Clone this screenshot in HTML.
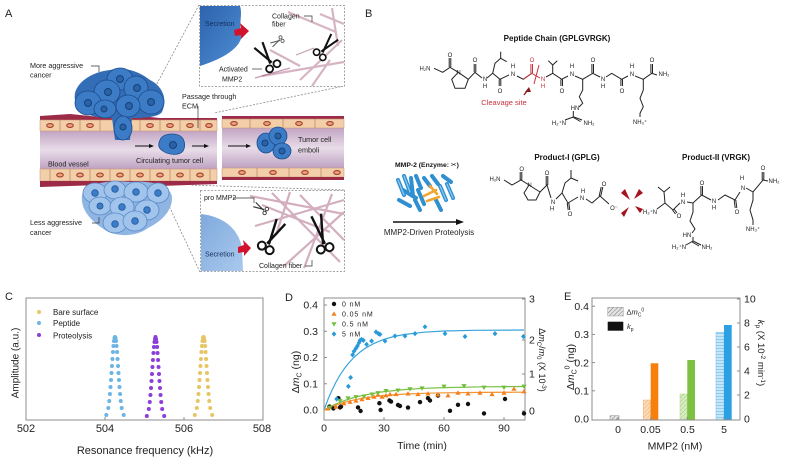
<!DOCTYPE html>
<html><head><meta charset="utf-8">
<style>
html,body{margin:0;padding:0;background:#fff;}
svg{display:block;font-family:"Liberation Sans",Arial,sans-serif;}
</style></head><body>
<svg width="787" height="459" viewBox="0 0 787 459" xmlns="http://www.w3.org/2000/svg">
<defs>
 <linearGradient id="vessel" x1="0" y1="0" x2="0" y2="1">
  <stop offset="0" stop-color="#c2a5c4"/><stop offset="0.5" stop-color="#e8dce8"/><stop offset="1" stop-color="#bfa2c2"/>
 </linearGradient>
 <linearGradient id="secA" x1="0" y1="0" x2="1" y2="1"><stop offset="0" stop-color="#2c63ad"/><stop offset="1" stop-color="#4f8ed3"/></linearGradient>
 <linearGradient id="secB" x1="0" y1="0" x2="1" y2="1"><stop offset="0" stop-color="#7fa9dc"/><stop offset="1" stop-color="#a9c9ee"/></linearGradient>
 <pattern id="hGray" width="3" height="3" patternUnits="userSpaceOnUse" patternTransform="rotate(45)"><rect width="3" height="3" fill="#e4e4e4"/><line x1="0" y1="0" x2="0" y2="3" stroke="#777" stroke-width="1"/></pattern>
 <pattern id="hOr" width="3" height="3" patternUnits="userSpaceOnUse" patternTransform="rotate(45)"><rect width="3" height="3" fill="#fbdcb9"/><line x1="0" y1="0" x2="0" y2="3" stroke="#f1a86a" stroke-width="1"/></pattern>
 <pattern id="hGr" width="3" height="3" patternUnits="userSpaceOnUse" patternTransform="rotate(45)"><rect width="3" height="3" fill="#dcedc8"/><line x1="0" y1="0" x2="0" y2="3" stroke="#9fcd74" stroke-width="1"/><line x1="0" y1="0" x2="3" y2="0" stroke="#b8da94" stroke-width="0.6"/></pattern>
 <pattern id="hBl" width="3" height="3" patternUnits="userSpaceOnUse"><rect width="3" height="3" fill="#c6e6f8"/><line x1="0" y1="0" x2="3" y2="0" stroke="#55b4e8" stroke-width="1"/></pattern>
</defs>
<rect width="787" height="459" fill="#fff"/>

<!-- ================= PANEL A ================= -->
<text x="5" y="17" font-size="11" fill="#222">A</text>

<g stroke="#8a8a8a" stroke-width="0.8" stroke-dasharray="2,1.5" fill="none">
 <line x1="199" y1="5" x2="152" y2="93"/>
 <line x1="344" y1="86" x2="214" y2="113"/>
 <line x1="344" y1="190" x2="190" y2="185"/>
 <line x1="200" y1="272" x2="163" y2="193"/>
</g>

<rect x="199.5" y="5.5" width="145" height="81" fill="#fff" stroke="#8a8a8a" stroke-width="0.8" stroke-dasharray="2,1.5"/>
<g stroke="#c99cb0" stroke-width="2.2" opacity="0.75" fill="none">
 <line x1="288" y1="12" x2="336" y2="32"/>
 <line x1="300" y1="80" x2="342" y2="40"/>
 <line x1="312" y1="86" x2="330" y2="60"/>
 <line x1="262" y1="76" x2="344" y2="62"/>
 <line x1="320" y1="14" x2="344" y2="24"/>
 <line x1="332" y1="8" x2="338" y2="46"/>
 <line x1="270" y1="50" x2="300" y2="66"/>
</g>
<g stroke="#9b5c7c" stroke-width="1.2" opacity="0.6"><line x1="255" y1="78" x2="290" y2="68"/><line x1="296" y1="55" x2="314" y2="48"/></g>
<path d="M200,6 H240 C243,15 238,25 242,35 C240,48 225,58 200,66 Z" fill="url(#secA)"/>
<text x="205" y="26" font-size="7" fill="#14305e">Secretion</text>
<polygon points="234,30 241,28 240,23 249,31 241,39 241,35 235,36" fill="#d3122e"/>
<text x="272" y="18.5" font-size="7" fill="#222">Collagen</text>
<text x="272" y="26.5" font-size="7" fill="#222">fiber</text>
<polyline points="304,16 312,16 312,22" fill="none" stroke="#333" stroke-width="0.7"/>
<text x="219" y="71.5" font-size="7" fill="#222">Activated</text>
<text x="222" y="81.5" font-size="7" fill="#222">MMP2</text>
<line x1="252" y1="69" x2="262" y2="69" stroke="#333" stroke-width="0.7"/>
<g transform="translate(271,63) rotate(-35)" stroke="#111" fill="none">
 <line x1="-1" y1="0" x2="5" y2="-22" stroke-width="2.2"/><line x1="1" y1="0" x2="-5" y2="-22" stroke-width="2.2"/>
 <circle cx="-4.5" cy="4" r="3.5" stroke-width="1.8" fill="#fff"/><circle cx="4.5" cy="4" r="3.5" stroke-width="1.8" fill="#fff"/>
</g>
<g transform="translate(322,52) rotate(40) scale(0.9)" stroke="#111" fill="none">
 <line x1="-1" y1="0" x2="5" y2="-22" stroke-width="2.2"/><line x1="1" y1="0" x2="-5" y2="-22" stroke-width="2.2"/>
 <circle cx="-4.5" cy="4" r="3.5" stroke-width="1.8" fill="#fff"/><circle cx="4.5" cy="4" r="3.5" stroke-width="1.8" fill="#fff"/>
</g>
<g transform="translate(280,40) rotate(-120) scale(0.45)" stroke="#555" fill="none">
 <line x1="-1" y1="0" x2="5" y2="-22" stroke-width="2.2"/><line x1="1" y1="0" x2="-5" y2="-22" stroke-width="2.2"/>
 <circle cx="-4.5" cy="4" r="3.5" stroke-width="1.8" fill="#fff"/><circle cx="4.5" cy="4" r="3.5" stroke-width="1.8" fill="#fff"/>
</g>

<rect x="200.5" y="190.5" width="144" height="81" fill="#fff" stroke="#8a8a8a" stroke-width="0.8" stroke-dasharray="2,1.5"/>
<g stroke="#c594aa" stroke-width="2.2" opacity="0.75" fill="none">
 <line x1="250" y1="196" x2="344" y2="214"/>
 <line x1="272" y1="193" x2="340" y2="262"/>
 <line x1="300" y1="195" x2="344" y2="240"/>
 <line x1="255" y1="226" x2="344" y2="200"/>
 <line x1="284" y1="266" x2="344" y2="212"/>
 <line x1="332" y1="194" x2="304" y2="268"/>
 <line x1="262" y1="205" x2="330" y2="232"/>
 <line x1="290" y1="192" x2="276" y2="235"/>
</g>
<path d="M201,214 C220,216 238,226 242,248 L243,271 L201,271 Z" fill="url(#secB)"/>
<text x="205" y="256.5" font-size="7" fill="#14305e">Secretion</text>
<polygon points="238,247 244,245 243,240 251,248 244,256 244,252 238,253" fill="#d3122e"/>
<text x="204" y="200" font-size="7" fill="#222">pro MMP2</text>
<polyline points="233,198 254,198 254,203" fill="none" stroke="#333" stroke-width="0.7"/>
<text x="259" y="268" font-size="7" fill="#222">Collagen fiber</text>
<polyline points="305,266 312,266 312,260" fill="none" stroke="#333" stroke-width="0.7"/>
<g transform="translate(268,244) rotate(30)" stroke="#111" fill="none">
 <line x1="-1" y1="0" x2="5" y2="-26" stroke-width="2.4"/><line x1="1" y1="0" x2="-5" y2="-26" stroke-width="2.4"/>
 <circle cx="-4.5" cy="4.5" r="4" stroke-width="2" fill="#fff"/><circle cx="4.5" cy="4.5" r="4" stroke-width="2" fill="#fff"/>
</g>
<g transform="translate(324,244) rotate(-15)" stroke="#111" fill="none">
 <line x1="-1" y1="0" x2="5" y2="-30" stroke-width="2.4"/><line x1="1" y1="0" x2="-5" y2="-30" stroke-width="2.4"/>
 <circle cx="-4.5" cy="4.5" r="4" stroke-width="2" fill="#fff"/><circle cx="4.5" cy="4.5" r="4" stroke-width="2" fill="#fff"/>
</g>
<g transform="translate(264,210) rotate(-60) scale(0.5)" stroke="#333" fill="none">
 <line x1="-1" y1="0" x2="5" y2="-22" stroke-width="2.2"/><line x1="1" y1="0" x2="-5" y2="-22" stroke-width="2.2"/>
 <circle cx="-4.5" cy="4" r="3.5" stroke-width="1.8" fill="#fff"/><circle cx="4.5" cy="4" r="3.5" stroke-width="1.8" fill="#fff"/>
</g>

<!-- blood vessel left -->
<rect x="40" y="131" width="177" height="38" fill="url(#vessel)"/>
<path d="M40,116 L70,114 L100,117 L130,115 L160,118 L217,118 L217,121 L40,120 Z" fill="#9c2b47"/>
<rect x="40" y="120" width="177" height="11" fill="#f2cfa9" stroke="#c49070" stroke-width="0.5"/>
<rect x="40" y="169" width="177" height="12" fill="#f2cfa9" stroke="#c49070" stroke-width="0.5"/>
<path d="M40,181 L217,181 L217,184 L160,186 L100,185 L40,187 Z" fill="#9c2b47"/>
<g stroke="#c08a68" stroke-width="0.8">
 <line x1="60" y1="120" x2="60" y2="131"/><line x1="80" y1="120" x2="80" y2="131"/><line x1="100" y1="120" x2="100" y2="131"/><line x1="120" y1="120" x2="120" y2="131"/><line x1="140" y1="120" x2="140" y2="131"/><line x1="160" y1="120" x2="160" y2="131"/><line x1="180" y1="120" x2="180" y2="131"/><line x1="200" y1="120" x2="200" y2="131"/>
 <line x1="50" y1="169" x2="50" y2="181"/><line x1="70" y1="169" x2="70" y2="181"/><line x1="90" y1="169" x2="90" y2="181"/><line x1="110" y1="169" x2="110" y2="181"/><line x1="130" y1="169" x2="130" y2="181"/><line x1="150" y1="169" x2="150" y2="181"/><line x1="170" y1="169" x2="170" y2="181"/><line x1="190" y1="169" x2="190" y2="181"/><line x1="210" y1="169" x2="210" y2="181"/>
</g>
<g fill="#eba57c" stroke="#a6402e" stroke-width="1.1">
 <ellipse cx="50" cy="125.5" rx="3.3" ry="1.9"/><ellipse cx="70" cy="125.5" rx="3.3" ry="1.9"/><ellipse cx="90" cy="125.5" rx="3.3" ry="1.9"/><ellipse cx="150" cy="125.5" rx="3.3" ry="1.9"/><ellipse cx="170" cy="125.5" rx="3.3" ry="1.9"/><ellipse cx="190" cy="125.5" rx="3.3" ry="1.9"/><ellipse cx="209" cy="125.5" rx="3.3" ry="1.9"/>
 <ellipse cx="60" cy="175" rx="3.3" ry="1.9"/><ellipse cx="80" cy="175" rx="3.3" ry="1.9"/><ellipse cx="100" cy="175" rx="3.3" ry="1.9"/><ellipse cx="120" cy="175" rx="3.3" ry="1.9"/><ellipse cx="140" cy="175" rx="3.3" ry="1.9"/><ellipse cx="160" cy="175" rx="3.3" ry="1.9"/><ellipse cx="180" cy="175" rx="3.3" ry="1.9"/><ellipse cx="200" cy="175" rx="3.3" ry="1.9"/>
</g>
<!-- blood vessel right -->
<rect x="222" y="128" width="122" height="40" fill="url(#vessel)"/>
<rect x="222" y="116" width="122" height="3" fill="#9c2b47"/>
<rect x="222" y="119" width="122" height="9" fill="#f2cfa9" stroke="#c49070" stroke-width="0.5"/>
<rect x="222" y="168" width="122" height="9" fill="#f2cfa9" stroke="#c49070" stroke-width="0.5"/>
<rect x="222" y="177" width="122" height="3" fill="#9c2b47"/>
<g stroke="#c08a68" stroke-width="0.8">
 <line x1="250" y1="119" x2="250" y2="128"/><line x1="283" y1="119" x2="283" y2="128"/><line x1="315" y1="119" x2="315" y2="128"/>
 <line x1="257" y1="168" x2="257" y2="177"/><line x1="289" y1="168" x2="289" y2="177"/><line x1="321" y1="168" x2="321" y2="177"/>
</g>
<g fill="#eba57c" stroke="#a6402e" stroke-width="1.1">
 <ellipse cx="234" cy="123.5" rx="3.3" ry="1.9"/><ellipse cx="267" cy="123.5" rx="3.3" ry="1.9"/><ellipse cx="299" cy="123.5" rx="3.3" ry="1.9"/><ellipse cx="330" cy="123.5" rx="3.3" ry="1.9"/>
 <ellipse cx="242" cy="172.5" rx="3.3" ry="1.9"/><ellipse cx="273" cy="172.5" rx="3.3" ry="1.9"/><ellipse cx="305" cy="172.5" rx="3.3" ry="1.9"/><ellipse cx="337" cy="172.5" rx="3.3" ry="1.9"/>
</g>
<g stroke="#111" stroke-width="1"><line x1="135" y1="146" x2="150" y2="146"/><line x1="192" y1="146" x2="205" y2="146"/><line x1="228" y1="146" x2="247" y2="146"/></g>
<g fill="#111"><polygon points="149,144 154,146 149,148"/><polygon points="204,144 209,146 204,148"/><polygon points="246,144 251,146 246,148"/></g>

<!-- top cancer cluster -->
<path d="M75,100 C72,85 90,72 110,70 C125,66 140,72 150,80 C162,86 168,98 162,112 C158,118 140,118 132,118 L130,140 L115,140 L112,118 C95,118 78,115 75,100Z" fill="#336db5"/>
<g fill="#3c7cc6" stroke="#1d4b8a" stroke-width="0.8">
 <ellipse cx="120" cy="79" rx="13" ry="11"/>
 <ellipse cx="136" cy="88" rx="12" ry="12"/>
 <ellipse cx="107" cy="92" rx="13" ry="12"/>
 <ellipse cx="88" cy="103" rx="13" ry="12"/>
 <ellipse cx="151" cy="102" rx="13" ry="12"/>
 <ellipse cx="105" cy="109" rx="11" ry="9"/>
 <ellipse cx="128" cy="106" rx="12" ry="11"/>
 <ellipse cx="123" cy="128" rx="9" ry="12"/>
</g>
<g fill="#2a62a8" stroke="#174279" stroke-width="1"><circle cx="120" cy="79" r="3.5"/><circle cx="137" cy="88" r="3.5"/><circle cx="108" cy="92" r="3.5"/><circle cx="88" cy="103" r="3.5"/><circle cx="151" cy="102" r="3.5"/><circle cx="104" cy="109" r="3"/><circle cx="129" cy="106" r="3.5"/><circle cx="123" cy="127" r="3"/></g>
<path d="M160,140 C162,134 172,133 178,135 C185,137 186,146 183,151 C179,156 168,155 163,151 C158,148 158,144 160,140Z" fill="#3c7cc6" stroke="#1d4b8a" stroke-width="0.8"/>
<circle cx="173" cy="145" r="3.5" fill="#2a62a8" stroke="#174279"/>
<g fill="#3c7cc6" stroke="#1d4b8a" stroke-width="0.8">
 <ellipse cx="266" cy="143" rx="9" ry="10"/><ellipse cx="278" cy="136" rx="9" ry="9"/><ellipse cx="282" cy="151" rx="9" ry="8"/>
</g>
<g fill="#2a62a8" stroke="#174279"><circle cx="265" cy="143" r="3"/><circle cx="278" cy="136" r="3"/><circle cx="282" cy="151" r="3"/></g>

<!-- bottom cancer cluster -->
<path d="M82,195 C85,183 110,180 130,182 C150,180 172,185 172,198 C172,212 160,222 148,228 C138,236 118,238 105,230 C92,222 80,210 82,195Z" fill="#8fb5e3"/>
<g fill="#a1c4ec" stroke="#5b89c5" stroke-width="0.8">
 <ellipse cx="95" cy="193" rx="12" ry="10"/><ellipse cx="115" cy="190" rx="11" ry="9"/><ellipse cx="136" cy="192" rx="12" ry="10"/><ellipse cx="158" cy="193" rx="11" ry="10"/>
 <ellipse cx="100" cy="206" rx="11" ry="9"/><ellipse cx="122" cy="207" rx="12" ry="10"/><ellipse cx="147" cy="210" rx="12" ry="10"/>
 <ellipse cx="115" cy="223" rx="12" ry="10"/><ellipse cx="135" cy="221" rx="12" ry="10"/>
</g>
<g fill="#3b7ccb" stroke="#285c9c" stroke-width="0.9"><circle cx="95" cy="193" r="3.3"/><circle cx="115" cy="189" r="3.3"/><circle cx="136" cy="192" r="3.3"/><circle cx="158" cy="193" r="3.3"/><circle cx="100" cy="206" r="3"/><circle cx="122" cy="207" r="3.3"/><circle cx="147" cy="210" r="3.3"/><circle cx="115" cy="224" r="3.3"/><circle cx="135" cy="221" r="3.3"/></g>

<g font-size="7.2" fill="#222">
 <text x="30" y="68">More aggressive</text><text x="30" y="77.5">cancer</text>
 <text x="30" y="225">Less aggressive</text><text x="30" y="235">cancer</text>
 <text x="182" y="99">Passage through</text><text x="182" y="108.5">ECM</text>
 <text x="48" y="166.5">Blood vessel</text>
 <text x="136" y="163">Circulating  tumor cell</text>
 <text x="298" y="142">Tumor cell</text><text x="298" y="152.5">emboli</text>
</g>
<g fill="none" stroke="#333" stroke-width="0.7">
 <polyline points="91,66 99,66 99,72"/>
 <polyline points="92,223 99,223 99,217"/>
 <polyline points="198,106 198,128"/>
</g>

<!-- ================= PANEL B ================= -->
<text x="365" y="17" font-size="11" fill="#222">B</text>
<text x="557" y="41" font-size="8" font-weight="bold" text-anchor="middle" fill="#111">Peptide Chain (GPLGVRGK)</text>
<g fill="none" stroke="#222" stroke-width="1">
 <polyline points="434,68.3 442.7,72.3 450,67.3 458.3,72.3"/>
 <line x1="449.2" y1="67" x2="449.2" y2="58"/><line x1="450.8" y1="67" x2="450.8" y2="58"/>
 <polyline points="458.3,72.3 451.7,79.3 455,88.3 465,88.3 468.3,79.3 458.3,72.3"/>
 <polyline points="468.3,79.3 475,72.3 482,78"/>
 <line x1="474.2" y1="72" x2="474.2" y2="64"/><line x1="475.8" y1="72" x2="475.8" y2="64"/>
 <polyline points="487,78 492.7,73.3 500,79.3 509,75"/>
 <polyline points="492.7,73.3 495,63.3 500.7,58.3 500.7,51.7"/><line x1="500.7" y1="58.3" x2="506.7" y2="61.7"/>
 <line x1="499.2" y1="79.5" x2="499.2" y2="86"/><line x1="500.8" y1="79.5" x2="500.8" y2="86"/>
 <polyline points="517,76 523.3,79.3 531.7,73.3"/>
 <polyline points="546,77 552.7,73.3 561.7,79.3 568,76"/>
 <polyline points="552.7,73.3 552.7,65 548.3,60.7"/><line x1="552.7" y1="65" x2="557.3" y2="60.7"/>
 <line x1="560.9" y1="79.5" x2="560.9" y2="86"/><line x1="562.5" y1="79.5" x2="562.5" y2="86"/>
 <polyline points="575,76 582.7,79.3 592.7,73.3 600,77"/>
 <polyline points="582.7,79.3 582.7,90 579.3,96.7 582.7,103.3 579,107"/>
 <line x1="573.3" y1="111" x2="573.3" y2="117"/><line x1="573.3" y1="117" x2="565" y2="120"/><line x1="574" y1="117" x2="582" y2="120"/><line x1="572.5" y1="117" x2="580.5" y2="121.5"/>
 <line x1="591.9" y1="73" x2="591.9" y2="64"/><line x1="593.5" y1="73" x2="593.5" y2="64"/>
 <polyline points="606,77 611.7,73.3 621.7,79.3 628,76"/>
 <line x1="620.9" y1="79.5" x2="620.9" y2="86"/><line x1="622.5" y1="79.5" x2="622.5" y2="86"/>
 <polyline points="635,76 643.3,79.3 651.7,73.3 657,75"/>
 <polyline points="643.3,79.3 643.3,90 640,98.3 643.3,106.7 640,113.3 640,117"/>
 <line x1="650.9" y1="73" x2="650.9" y2="64"/><line x1="652.5" y1="73" x2="652.5" y2="64"/>
</g>
<g fill="none" stroke="#c8323c" stroke-width="1">
 <polyline points="523.3,79.3 531.7,73.3 540,78"/>
 <line x1="530.9" y1="73" x2="530.9" y2="64"/><line x1="532.5" y1="73" x2="532.5" y2="64"/>
 <line x1="539" y1="65" x2="534" y2="84"/>
</g>
<polygon points="525,92 529,87 531,92" fill="#8b1a1a"/><line x1="527" y1="91" x2="524" y2="95" stroke="#8b1a1a" stroke-width="1.4"/>
<g font-size="6" fill="#222" text-anchor="middle">
 <text x="425" y="70.5">H₂N</text>
 <text x="450" y="57">O</text><text x="458.5" y="74.5">N</text>
 <text x="475" y="62">O</text><text x="485" y="81">N</text><text x="485" y="88">H</text>
 <text x="500" y="93">O</text>
 <text x="513" y="76">N</text><text x="513" y="68">H</text>
 <text x="562" y="93">O</text>
 <text x="572" y="76">N</text><text x="572" y="68">H</text>
 <text x="575" y="110">HN</text><text x="559" y="125">H₂⁺N</text><text x="589" y="125">NH₂</text>
 <text x="593" y="62">O</text>
 <text x="603" y="81">N</text><text x="603" y="88">H</text>
 <text x="622" y="93">O</text>
 <text x="632" y="76">N</text><text x="632" y="68">H</text>
 <text x="640" y="124">NH₃⁺</text>
 <text x="652" y="62">O</text>
 <text x="664" y="76">NH₂</text>
</g>
<g font-size="6" fill="#c8323c" text-anchor="middle"><text x="532" y="62">O</text><text x="543" y="81">N</text><text x="543" y="88">H</text></g>
<text x="504" y="105" font-size="7.5" fill="#c8323c" text-anchor="middle">Cleavage site</text>

<!-- MMP-2 enzyme -->
<text x="395" y="167" font-size="6.8" font-weight="bold" fill="#111">MMP-2 (Enzyme: <tspan font-family="DejaVu Sans" font-weight="normal">✂</tspan>)</text>
<g stroke-linecap="round" fill="none">
 <g stroke="#2f8fd0" stroke-width="4">
  <line x1="398" y1="180" x2="404" y2="195"/><line x1="404" y1="176" x2="410" y2="192"/><line x1="411" y1="178" x2="413" y2="196"/>
  <line x1="399" y1="200" x2="410" y2="206"/><line x1="416" y1="176" x2="421" y2="188"/><line x1="424" y1="178" x2="430" y2="186"/>
  <line x1="440" y1="186" x2="446" y2="200"/><line x1="447" y1="184" x2="453" y2="198"/><line x1="436" y1="200" x2="441" y2="210"/>
  <line x1="415" y1="200" x2="420" y2="210"/><line x1="443" y1="176" x2="451" y2="182"/>
  <line x1="403" y1="190" x2="416" y2="198"/><line x1="418" y1="190" x2="424" y2="204"/><line x1="432" y1="176" x2="438" y2="184"/>
 </g>
 <g stroke="#8ccdf3" stroke-width="1.2">
  <line x1="398" y1="180" x2="404" y2="195"/><line x1="404" y1="176" x2="410" y2="192"/><line x1="440" y1="186" x2="446" y2="200"/><line x1="447" y1="184" x2="453" y2="198"/>
 </g>
 <g stroke="#f2a530" stroke-width="2.6">
  <line x1="424" y1="196" x2="436" y2="190"/><line x1="427" y1="201" x2="439" y2="197"/><line x1="430" y1="186" x2="437" y2="194"/>
 </g>
</g>
<line x1="393" y1="222" x2="457" y2="222" stroke="#111" stroke-width="1.4"/>
<polygon points="456,219 464,222 456,225" fill="#111"/>
<text x="429" y="235" font-size="8" fill="#222" text-anchor="middle">MMP2-Driven Proteolysis</text>

<text x="567" y="160" font-size="8" font-weight="bold" text-anchor="middle" fill="#111">Product-I (GPLG)</text>
<text x="716" y="160" font-size="8" font-weight="bold" text-anchor="middle" fill="#111">Product-II (VRGK)</text>
<g fill="none" stroke="#222" stroke-width="1">
 <polyline points="504,180 512,185 521,180 529,185"/>
 <line x1="520.2" y1="180" x2="520.2" y2="172"/><line x1="521.8" y1="180" x2="521.8" y2="172"/>
 <polyline points="529,185 524,193 528,200 536,200 540,192 529,185"/>
 <polyline points="540,192 547,185 551,198"/>
 <line x1="546.2" y1="185" x2="546.2" y2="176"/><line x1="547.8" y1="185" x2="547.8" y2="176"/>
 <polyline points="556,199 562,193 568,203 578,197"/>
 <polyline points="562,193 565,183 571,178 571,170"/><line x1="571" y1="178" x2="578" y2="181"/>
 <line x1="567.2" y1="203" x2="568.2" y2="210"/><line x1="568.8" y1="203" x2="569.8" y2="210"/>
 <polyline points="586,199 592,203 600,196 609,204"/>
 <line x1="599.2" y1="196" x2="601.2" y2="187"/><line x1="600.8" y1="196" x2="602.8" y2="187"/>

 <polyline points="657,209 665,203 673,210 680,203"/>
 <polyline points="665,203 664,192 658,187"/><line x1="664" y1="192" x2="670" y2="187"/>
 <line x1="672.5" y1="210" x2="675.5" y2="214"/><line x1="674" y1="209" x2="677" y2="213"/>
 <polyline points="687,202 693,203 701.7,195 711,200"/>
 <polyline points="693,203 693,212 690,221 695,229 692,233"/>
 <line x1="693" y1="237" x2="693" y2="241"/><line x1="693" y1="241" x2="686" y2="245"/><line x1="693" y1="241" x2="701" y2="245"/><line x1="692" y1="242" x2="699" y2="246"/>
 <line x1="700.9" y1="195" x2="700.9" y2="186"/><line x1="702.5" y1="195" x2="702.5" y2="186"/>
 <polyline points="718,200 725,195 735,200 740,192"/>
 <line x1="734.2" y1="200" x2="735.2" y2="208"/><line x1="735.8" y1="200" x2="736.8" y2="208"/>
 <polyline points="746,188 753,192 763,180 768,181"/>
 <polyline points="753,192 753,200 750,210 753,220 753,225"/>
 <line x1="762.2" y1="180" x2="762.2" y2="172"/><line x1="763.8" y1="180" x2="763.8" y2="172"/>
</g>
<g font-size="6" fill="#222" text-anchor="middle">
 <text x="495" y="181">H₂N</text><text x="521.7" y="171">O</text><text x="529.5" y="187">N</text>
 <text x="547" y="175">O</text><text x="553" y="204">N</text><text x="552" y="210.5">H</text>
 <text x="570" y="216">O</text><text x="582" y="200">N</text><text x="583" y="193">H</text>
 <text x="604" y="186">O</text><text x="614" y="210">O⁻</text>
 <text x="650" y="214">H₃⁺N</text><text x="679" y="218">O</text>
 <text x="683" y="204">N</text><text x="683" y="197">H</text>
 <text x="687" y="237">HN</text><text x="679" y="249">H₂⁺N</text><text x="707" y="249">NH₂</text>
 <text x="702" y="185">O</text><text x="714" y="203">N</text><text x="714" y="209.5">H</text>
 <text x="737" y="214">O</text><text x="743" y="190">N</text><text x="742" y="180">H</text>
 <text x="753" y="231">NH₃⁺</text><text x="763" y="170">O</text><text x="774" y="183">NH₂</text>
</g>
<g fill="#a3141e">
 <polygon points="621,193 625,189 630,200"/>
 <polygon points="639,189 643,193 634,199"/>
 <polygon points="621,213 624,217 629,207"/>
 <polygon points="640,213 643,209 635,206"/>
</g>

<!-- ================= PANEL C ================= -->
<text x="5" y="300" font-size="11" fill="#222">C</text>
<rect x="26" y="298" width="237" height="122" fill="none" stroke="#8c8c8c" stroke-width="1"/>
<g stroke="#8c8c8c" stroke-width="1"><line x1="105" y1="420" x2="105" y2="417"/><line x1="184" y1="420" x2="184" y2="417"/></g>
<g font-size="11" fill="#222" text-anchor="middle"><text x="26" y="432">502</text><text x="105" y="432">504</text><text x="184" y="432">506</text><text x="262" y="432">508</text></g>
<text x="145" y="454" font-size="11" fill="#222" text-anchor="middle">Resonance frequency (kHz)</text>
<text transform="translate(18.5,363) rotate(-90)" font-size="10" fill="#222" text-anchor="middle">Amplitude (a.u.)</text>
<circle cx="39" cy="312" r="2" fill="#e6c564"/><circle cx="39" cy="323" r="2" fill="#6cb4e4"/><circle cx="39" cy="335" r="2" fill="#8c3fd8"/>
<g font-size="8" fill="#222"><text x="53" y="315">Bare surface</text><text x="53" y="326">Peptide</text><text x="53" y="338.5">Proteolysis</text></g>
<g transform="translate(115,417)" fill="#6cb4e4">
 <circle cx="-8.7" cy="-2" r="2"/><circle cx="8.7" cy="-2" r="2"/><circle cx="-6.7" cy="-9" r="2"/><circle cx="6.7" cy="-9" r="2"/>
 <circle cx="-5.74" cy="-16" r="2"/><circle cx="5.74" cy="-16" r="2"/><circle cx="-5.05" cy="-23" r="2"/><circle cx="5.05" cy="-23" r="2"/>
 <circle cx="-4.48" cy="-30" r="2"/><circle cx="4.48" cy="-30" r="2"/><circle cx="-3.97" cy="-37" r="2"/><circle cx="3.97" cy="-37" r="2"/>
 <circle cx="-3.5" cy="-44" r="2"/><circle cx="3.5" cy="-44" r="2"/><circle cx="-3.04" cy="-51" r="2"/><circle cx="3.04" cy="-51" r="2"/>
 <circle cx="-2.57" cy="-58" r="2"/><circle cx="2.57" cy="-58" r="2"/><circle cx="-2.06" cy="-65" r="2"/><circle cx="2.06" cy="-65" r="2"/>
 <circle cx="-1.56" cy="-71" r="2"/><circle cx="1.56" cy="-71" r="2"/><circle cx="-1.03" cy="-76" r="2"/><circle cx="1.03" cy="-76" r="2"/>
 <circle cx="-0.5" cy="-79" r="2"/><circle cx="0.5" cy="-79" r="2"/><circle cx="0" cy="-80" r="2"/>
</g>
<g transform="translate(155.5,418)" fill="#8c3fd8">
 <circle cx="-8.7" cy="-2" r="2"/><circle cx="8.7" cy="-2" r="2"/><circle cx="-6.7" cy="-9" r="2"/><circle cx="6.7" cy="-9" r="2"/>
 <circle cx="-5.74" cy="-16" r="2"/><circle cx="5.74" cy="-16" r="2"/><circle cx="-5.05" cy="-23" r="2"/><circle cx="5.05" cy="-23" r="2"/>
 <circle cx="-4.48" cy="-30" r="2"/><circle cx="4.48" cy="-30" r="2"/><circle cx="-3.97" cy="-37" r="2"/><circle cx="3.97" cy="-37" r="2"/>
 <circle cx="-3.5" cy="-44" r="2"/><circle cx="3.5" cy="-44" r="2"/><circle cx="-3.04" cy="-51" r="2"/><circle cx="3.04" cy="-51" r="2"/>
 <circle cx="-2.57" cy="-58" r="2"/><circle cx="2.57" cy="-58" r="2"/><circle cx="-2.06" cy="-65" r="2"/><circle cx="2.06" cy="-65" r="2"/>
 <circle cx="-1.56" cy="-71" r="2"/><circle cx="1.56" cy="-71" r="2"/><circle cx="-1.03" cy="-76" r="2"/><circle cx="1.03" cy="-76" r="2"/>
 <circle cx="-0.5" cy="-79" r="2"/><circle cx="0.5" cy="-79" r="2"/><circle cx="0" cy="-81" r="2"/>
</g>
<g transform="translate(203.5,417)" fill="#e6c564">
 <circle cx="-8.7" cy="-2" r="2"/><circle cx="8.7" cy="-2" r="2"/><circle cx="-6.7" cy="-9" r="2"/><circle cx="6.7" cy="-9" r="2"/>
 <circle cx="-5.74" cy="-16" r="2"/><circle cx="5.74" cy="-16" r="2"/><circle cx="-5.05" cy="-23" r="2"/><circle cx="5.05" cy="-23" r="2"/>
 <circle cx="-4.48" cy="-30" r="2"/><circle cx="4.48" cy="-30" r="2"/><circle cx="-3.97" cy="-37" r="2"/><circle cx="3.97" cy="-37" r="2"/>
 <circle cx="-3.5" cy="-44" r="2"/><circle cx="3.5" cy="-44" r="2"/><circle cx="-3.04" cy="-51" r="2"/><circle cx="3.04" cy="-51" r="2"/>
 <circle cx="-2.57" cy="-58" r="2"/><circle cx="2.57" cy="-58" r="2"/><circle cx="-2.06" cy="-65" r="2"/><circle cx="2.06" cy="-65" r="2"/>
 <circle cx="-1.56" cy="-71" r="2"/><circle cx="1.56" cy="-71" r="2"/><circle cx="-1.03" cy="-76" r="2"/><circle cx="1.03" cy="-76" r="2"/>
 <circle cx="-0.5" cy="-79" r="2"/><circle cx="0.5" cy="-79" r="2"/><circle cx="0" cy="-80" r="2"/>
</g>

<!-- ================= PANEL D ================= -->
<text x="285" y="301" font-size="11" fill="#222">D</text>
<rect x="324" y="298" width="201" height="122" fill="none" stroke="#8c8c8c" stroke-width="1"/>
<g stroke="#8c8c8c" stroke-width="1">
 <line x1="324" y1="410" x2="327" y2="410"/><line x1="324" y1="383.75" x2="327" y2="383.75"/><line x1="324" y1="357.5" x2="327" y2="357.5"/><line x1="324" y1="331.25" x2="327" y2="331.25"/><line x1="324" y1="305" x2="327" y2="305"/>
 <line x1="384" y1="420" x2="384" y2="417"/><line x1="444" y1="420" x2="444" y2="417"/><line x1="504" y1="420" x2="504" y2="417"/>
 <line x1="522" y1="411" x2="525" y2="411"/><line x1="522" y1="374" x2="525" y2="374"/><line x1="522" y1="340" x2="525" y2="340"/><line x1="522" y1="299" x2="525" y2="299"/>
</g>
<g font-size="10.5" fill="#222" text-anchor="end">
 <text x="318" y="413.7">0.0</text><text x="318" y="387.5">0.1</text><text x="318" y="361.2">0.2</text><text x="318" y="335">0.3</text><text x="318" y="308.7">0.4</text>
</g>
<g font-size="10.5" fill="#222"><text x="529" y="414.7">0</text><text x="529" y="377.7">1</text><text x="529" y="343.7">2</text><text x="529" y="302.7">3</text></g>
<g font-size="10.5" fill="#222" text-anchor="middle"><text x="324" y="431.5">0</text><text x="384" y="431.5">30</text><text x="444" y="431.5">60</text><text x="504" y="431.5">90</text></g>
<text x="422" y="449" font-size="10.5" fill="#222" text-anchor="middle">Time (min)</text>
<text transform="translate(299,372) rotate(-90)" font-size="10.5" fill="#222" text-anchor="middle">Δ<tspan font-style="italic">m</tspan><tspan font-size="7" dy="2.5">C</tspan><tspan dy="-2.5"> (ng)</tspan></text>
<text transform="translate(539,360) rotate(90)" font-size="9" fill="#222" text-anchor="middle">Δ<tspan font-style="italic">m</tspan><tspan font-size="6" dy="2">C</tspan><tspan dy="-2">/</tspan><tspan font-style="italic">m</tspan><tspan font-size="6" dy="2">0</tspan><tspan dy="-2"> (X 10</tspan><tspan font-size="6" dy="-3">-3</tspan><tspan dy="3">)</tspan></text>
<polyline fill="none" stroke="#3ba3dc" stroke-width="1.2" points="324,410 328,399.3 332,390.1 336,382.1 340,375.1 344,369.1 348,363.9 354,357.4 360,352.1 366,347.8 374,343.4 384,339.3 394,336.5 404,334.5 424,332.2 444,331 474,330.3 524,330"/>
<polyline fill="none" stroke="#7ac143" stroke-width="1.2" points="324,410 334,404.8 344,400.7 354,397.5 364,395.1 384,391.6 404,389.6 424,388.3 444,387.6 484,386.8 524,386.5"/>
<polyline fill="none" stroke="#f39332" stroke-width="1.2" points="324,410 334,405.7 344,402.4 354,399.9 364,398 384,395.5 404,394.1 424,393.3 444,392.8 484,392.4 524,392.2"/>
<g fill="#111">
 <circle cx="329.4" cy="406.6" r="2.2"/><circle cx="333.4" cy="408.4" r="2.2"/><circle cx="338.4" cy="398.2" r="2.2"/><circle cx="340" cy="407.4" r="2.2"/><circle cx="341" cy="406.6" r="2.2"/>
 <circle cx="358" cy="407.4" r="2.2"/><circle cx="360.6" cy="411" r="2.2"/><circle cx="379.4" cy="403.2" r="2.2"/><circle cx="380.6" cy="410" r="2.2"/><circle cx="389.4" cy="400.5" r="2.2"/>
 <circle cx="391" cy="401.6" r="2.2"/><circle cx="398" cy="405" r="2.2"/><circle cx="400" cy="406" r="2.2"/><circle cx="408" cy="407.6" r="2.2"/><circle cx="420" cy="402.1" r="2.2"/>
 <circle cx="428" cy="398.2" r="2.2"/><circle cx="430" cy="400.5" r="2.2"/><circle cx="438" cy="395.6" r="2.2"/><circle cx="450" cy="410.8" r="2.2"/><circle cx="458" cy="404.8" r="2.2"/>
 <circle cx="468" cy="404" r="2.2"/><circle cx="484" cy="413.4" r="2.2"/><circle cx="505" cy="399" r="2.2"/><circle cx="524" cy="413.4" r="2.2"/>
</g>
<path fill="#f5801f" d="M328,406.1l2.6,4.4h-5.2z M336,404.3l2.6,4.4h-5.2z M344,400.8l2.6,4.4h-5.2z M350,399.5l2.6,4.4h-5.2z M356,398.2l2.6,4.4h-5.2z M362,396.9l2.6,4.4h-5.2z M368,395.6l2.6,4.4h-5.2z M374,394.3l2.6,4.4h-5.2z M378,392.2l2.6,4.4h-5.2z M382,394.3l2.6,4.4h-5.2z M386,393l2.6,4.4h-5.2z M390,391.7l2.6,4.4h-5.2z M396,391.7l2.6,4.4h-5.2z M408,391.1l2.6,4.4h-5.2z M418,391.7l2.6,4.4h-5.2z M428,391.1l2.6,4.4h-5.2z M438,392.2l2.6,4.4h-5.2z M448,393l2.6,4.4h-5.2z M458,390.3l2.6,4.4h-5.2z M468,391.1l2.6,4.4h-5.2z M480,390.3l2.6,4.4h-5.2z M492,391.7l2.6,4.4h-5.2z M504,390.3l2.6,4.4h-5.2z M514,386.4l2.6,4.4h-5.2z M524,389l2.6,4.4h-5.2z"/>
<path fill="#72bd3c" d="M330,410l2.6,-4.4h-5.2z M340,403.4l2.6,-4.4h-5.2z M348,400.8l2.6,-4.4h-5.2z M356,399.5l2.6,-4.4h-5.2z M364,399l2.6,-4.4h-5.2z M372,396.9l2.6,-4.4h-5.2z M378,395.5l2.6,-4.4h-5.2z M386,393.4l2.6,-4.4h-5.2z M398,392.9l2.6,-4.4h-5.2z M410,391.6l2.6,-4.4h-5.2z M422,390.8l2.6,-4.4h-5.2z M444,389l2.6,-4.4h-5.2z M464,388.5l2.6,-4.4h-5.2z M484,390l2.6,-4.4h-5.2z M504,390l2.6,-4.4h-5.2z M524,389l2.6,-4.4h-5.2z"/>
<path fill="#2b9ad9" d="M336.6,396.4l2.4,2.6l-2.4,2.6l-2.4,-2.6z M348.4,383.8l2.4,2.6l-2.4,2.6l-2.4,-2.6z M350.6,374.9l2.4,2.6l-2.4,2.6l-2.4,-2.6z M352.6,352.3l2.4,2.6l-2.4,2.6l-2.4,-2.6z M354,348.6l2.4,2.6l-2.4,2.6l-2.4,-2.6z M356,345.7l2.4,2.6l-2.4,2.6l-2.4,-2.6z M357.4,343.4l2.4,2.6l-2.4,2.6l-2.4,-2.6z M359,340.2l2.4,2.6l-2.4,2.6l-2.4,-2.6z M360,337.8l2.4,2.6l-2.4,2.6l-2.4,-2.6z M361.6,336.8l2.4,2.6l-2.4,2.6l-2.4,-2.6z M363.4,337.8l2.4,2.6l-2.4,2.6l-2.4,-2.6z M366.6,341.8l2.4,2.6l-2.4,2.6l-2.4,-2.6z M371.6,338.4l2.4,2.6l-2.4,2.6l-2.4,-2.6z M376,329.4l2.4,2.6l-2.4,2.6l-2.4,-2.6z M378.4,331l2.4,2.6l-2.4,2.6l-2.4,-2.6z M380,331.8l2.4,2.6l-2.4,2.6l-2.4,-2.6z M385,338.4l2.4,2.6l-2.4,2.6l-2.4,-2.6z M395,333.4l2.4,2.6l-2.4,2.6l-2.4,-2.6z M405,333.4l2.4,2.6l-2.4,2.6l-2.4,-2.6z M415,331l2.4,2.6l-2.4,2.6l-2.4,-2.6z M425,324.2l2.4,2.6l-2.4,2.6l-2.4,-2.6z M445,331l2.4,2.6l-2.4,2.6l-2.4,-2.6z M465,333.9l2.4,2.6l-2.4,2.6l-2.4,-2.6z M495,331l2.4,2.6l-2.4,2.6l-2.4,-2.6z M523.4,333.9l2.4,2.6l-2.4,2.6l-2.4,-2.6z"/>
<circle cx="334" cy="304" r="2.2" fill="#111"/>
<path fill="#f5801f" d="M334,311.4l2.6,4.4h-5.2z"/>
<path fill="#72bd3c" d="M334,326.6l2.6,-4.4h-5.2z"/>
<path fill="#2b9ad9" d="M334,331.4l2.4,2.6l-2.4,2.6l-2.4,-2.6z"/>
<g font-size="7" fill="#222" letter-spacing="0.9"><text x="342" y="306.5">0 nM</text><text x="342" y="316.5">0.05 nM</text><text x="342" y="326.5">0.5 nM</text><text x="342" y="336.5">5 nM</text></g>

<!-- ================= PANEL E ================= -->
<text x="564" y="300" font-size="11" fill="#222">E</text>
<rect x="610" y="415.7" width="9" height="4.3" fill="url(#hGray)" stroke="#888" stroke-width="0.5"/>
<rect x="643.3" y="400" width="7.4" height="20" fill="url(#hOr)" stroke="#f2b27a" stroke-width="0.5"/>
<rect x="650.7" y="363.3" width="7.6" height="56.7" fill="#f77f0c"/>
<rect x="680" y="394" width="7.3" height="26" fill="url(#hGr)" stroke="#a9d480" stroke-width="0.5"/>
<rect x="687.3" y="360" width="7.7" height="60" fill="#7cc142"/>
<rect x="716" y="332.3" width="8" height="87.7" fill="url(#hBl)" stroke="#6ec0ec" stroke-width="0.5"/>
<rect x="724" y="325" width="7.7" height="95" fill="#2ca0e3"/>
<rect x="592" y="298" width="148" height="122" fill="none" stroke="#8c8c8c" stroke-width="1"/>
<g stroke="#8c8c8c" stroke-width="1">
 <line x1="592" y1="390.8" x2="595" y2="390.8"/><line x1="592" y1="362.6" x2="595" y2="362.6"/><line x1="592" y1="334.4" x2="595" y2="334.4"/><line x1="592" y1="306.2" x2="595" y2="306.2"/>
 <line x1="737" y1="395" x2="740" y2="395"/><line x1="737" y1="371" x2="740" y2="371"/><line x1="737" y1="347" x2="740" y2="347"/><line x1="737" y1="323" x2="740" y2="323"/><line x1="737" y1="299" x2="740" y2="299"/>
 <line x1="618" y1="420" x2="618" y2="417"/><line x1="650.7" y1="420" x2="650.7" y2="417"/><line x1="687.3" y1="420" x2="687.3" y2="417"/><line x1="724" y1="420" x2="724" y2="417"/>
</g>
<g font-size="10.5" fill="#222" text-anchor="end">
 <text x="589" y="422.7">0.0</text><text x="589" y="394.5">0.1</text><text x="589" y="366.3">0.2</text><text x="589" y="338.1">0.3</text><text x="589" y="309.9">0.4</text>
</g>
<g font-size="10.5" fill="#222"><text x="744" y="422.7">0</text><text x="744" y="398.7">2</text><text x="744" y="374.7">4</text><text x="744" y="350.7">6</text><text x="744" y="326.7">8</text><text x="744" y="302.7">10</text></g>
<g font-size="10.5" fill="#222" text-anchor="middle"><text x="618" y="433">0</text><text x="650.5" y="433">0.05</text><text x="687.5" y="433">0.5</text><text x="724" y="433">5</text></g>
<text x="675" y="449.5" font-size="10.5" fill="#222" text-anchor="middle">MMP2 (nM)</text>
<text transform="translate(574,367) rotate(-90)" font-size="10.5" fill="#222" text-anchor="middle">Δ<tspan font-style="italic">m</tspan><tspan font-size="7" dy="2.5">C</tspan><tspan font-size="7" dy="-7">0</tspan><tspan dy="4.5"> (ng)</tspan></text>
<text transform="translate(758,353) rotate(90)" font-size="9.5" fill="#222" text-anchor="middle"><tspan font-style="italic">k</tspan><tspan font-size="6.5" dy="2">p</tspan><tspan dy="-2"> (X 10</tspan><tspan font-size="6.5" dy="-3">-2</tspan><tspan dy="3"> min</tspan><tspan font-size="6.5" dy="-3">-1</tspan><tspan dy="3">)</tspan></text>
<rect x="607.7" y="307.3" width="15.6" height="8.7" fill="url(#hGray)" stroke="#999" stroke-width="0.5"/>
<rect x="607.7" y="321.7" width="15.6" height="9" fill="#111"/>
<text x="626.5" y="314.5" font-size="7.5" fill="#222">Δ<tspan font-style="italic">m</tspan><tspan font-size="5" dy="2">C</tspan><tspan font-size="5" dy="-5">0</tspan></text>
<text x="627" y="329" font-size="7.5" fill="#222" font-style="italic">k<tspan font-size="5" dy="2" font-style="normal">p</tspan></text>
</svg>
</body></html>
